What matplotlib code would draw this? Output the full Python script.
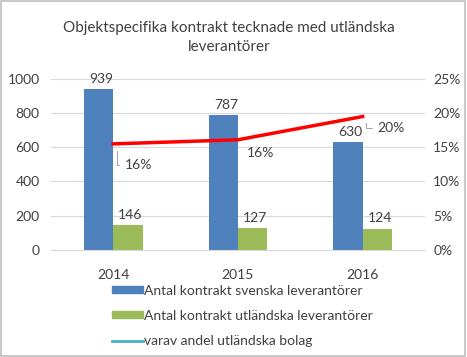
import numpy as np
import matplotlib.pyplot as plt
from matplotlib.patches import Patch, Rectangle
from matplotlib.lines import Line2D

plt.rcParams['font.family'] = ['Lato', 'DejaVu Sans']

years = ['2014', '2015', '2016']
svenska = [939, 787, 630]
utlandska = [146, 127, 124]
andel = [0.155, 0.161, 0.195]
andel_labels = ['16%', '16%', '20%']

blue = '#4f81bd'
green = '#9bbb59'
red = '#ff0000'
txt = '#404040'

fig = plt.figure(figsize=(4.67, 3.57), dpi=100)
ax = fig.add_axes([0.109, 0.300, 0.801, 0.479])
x = np.arange(len(years))
w = 0.235
ax.bar(x - w / 2, svenska, w, color=blue)
ax.bar(x + w / 2, utlandska, w, color=green)
for i in range(len(years)):
    ax.text(x[i] - w / 2 + 0.02, svenska[i] + 25, str(svenska[i]), ha='center', va='bottom', fontsize=10, color=txt)
    ax.text(x[i] + w / 2 + 0.02, utlandska[i] + 25, str(utlandska[i]), ha='center', va='bottom', fontsize=10, color=txt)

ax.set_xlim(-0.5, 2.5)
ax.set_ylim(0, 1000)
ax.set_yticks(range(0, 1001, 200))
ax.set_xticks(x)
ax.set_xticklabels(years)
ax.yaxis.grid(True, color='#d9d9d9', linewidth=0.8)
ax.set_axisbelow(True)
for s in ['top', 'left', 'right']:
    ax.spines[s].set_visible(False)
ax.spines['bottom'].set_color('#d9d9d9')
ax.tick_params(axis='y', length=0, labelsize=10, colors=txt, pad=8)
ax.tick_params(axis='x', length=0, labelsize=10, colors=txt, pad=14)

ax2 = ax.twinx()
ax2.plot(x, andel, color=red, linewidth=2.5)
ax2.set_ylim(0, 0.25)
ax2.set_yticks(np.arange(0, 0.26, 0.05))
ax2.set_yticklabels(['0%', '5%', '10%', '15%', '20%', '25%'])
for s in ['top', 'left', 'right', 'bottom']:
    ax2.spines[s].set_visible(False)
ax2.tick_params(length=0, labelsize=10, colors=txt, pad=6)

# percentage labels with leader lines
offsets = [(0.2, -0.031), (0.18, -0.019), (0.23, -0.017)]
leaders = [True, False, True]
for i in range(len(years)):
    dx, dy = offsets[i]
    props = None
    if leaders[i]:
        props = dict(arrowstyle='-', color='#a6a6a6', lw=0.8, relpos=(0, 0.5),
                     connectionstyle='angle,angleA=0,angleB=90,rad=0', shrinkA=2, shrinkB=5)
    ax2.annotate(andel_labels[i], xy=(x[i] + 0.03, andel[i]), xytext=(x[i] + dx, andel[i] + dy),
                 ha='center', va='center', fontsize=10, color=txt, arrowprops=props)

fig.text(0.49, 0.895, 'Objektspecifika kontrakt tecknade med utländska\nleverantörer',
         ha='center', va='center', fontsize=11, color=txt, linespacing=1.45)

handles = [Patch(color=blue), Patch(color=green), Line2D([0], [0], color='#4bacc6', lw=2)]
labels = ['Antal kontrakt svenska leverantörer', 'Antal kontrakt utländska leverantörer',
          'varav andel utländska bolag']
fig.legend(handles, labels, loc='upper left', bbox_to_anchor=(0.225, 0.222), frameon=False,
           fontsize=10, labelcolor=txt, handlelength=2.2, handleheight=0.4, handletextpad=0.1,
           labelspacing=0.95, borderpad=0)

fig.patches.append(Rectangle((0.002, 0.003), 0.994, 0.994, transform=fig.transFigure,
                             fill=False, edgecolor='#bfbfbf', linewidth=1.2))

fig.savefig('out.png', dpi=100)
